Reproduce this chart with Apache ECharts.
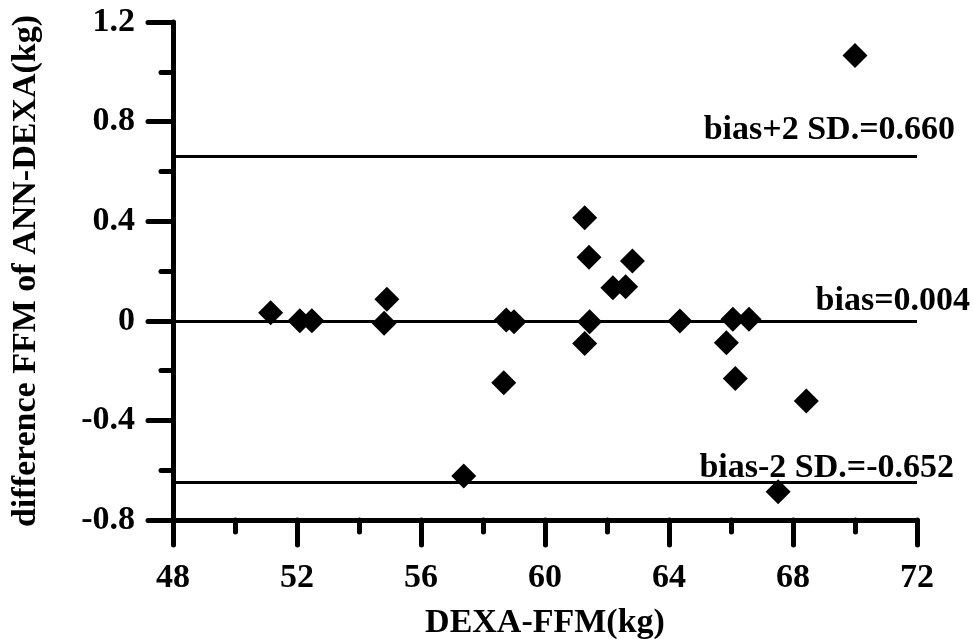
<!DOCTYPE html>
<html>
<head>
<meta charset="utf-8">
<script src="https://cdn.jsdelivr.net/npm/echarts@6/dist/echarts.min.js"></script>
<style>
html,body{margin:0;padding:0;background:#fff;}
#chart{width:974px;height:639px;}
</style>
</head>
<body>
<div id="chart"></div>
<script>
// DEXA-FFM (kg)
var dexaFFM = [51.15, 52.09, 52.48, 54.81, 54.90, 57.38, 58.67, 58.75, 59.00,
  61.28, 61.42, 61.28, 61.44, 62.19, 62.60, 62.82, 64.35, 65.85, 66.06, 66.14,
  66.58, 67.52, 68.43, 70.00];
// difference FFM of ANN-DEXA (kg)
var diffFFM = [0.032, 0.000, 0.000, -0.010, 0.087, -0.623, -0.249, 0.003, -0.004,
  0.414, 0.255, -0.091, -0.004, 0.133, 0.137, 0.240, -0.001, -0.088, 0.006, -0.232,
  0.006, -0.687, -0.322, 1.065];
var refValues = [0.660, 0.004, -0.652];
var refLabels = ['bias+2 SD.=0.660', 'bias=0.004', 'bias-2 SD.=-0.652'];
var xTickLabels = ['48', '52', '56', '60', '64', '68', '72'];
var yTickLabels = ['-0.8', '-0.4', '0', '0.4', '0.8', '1.2'];
var xTitle = 'DEXA-FFM(kg)';
var yTitle = 'difference FFM of ANN-DEXA(kg)';

var FONT = '"Liberation Serif", "Times New Roman", serif';
var FS = 34;
var chart = echarts.init(document.getElementById('chart'));

var points = dexaFFM.map(function (x, i) { return [x, diffFFM[i]]; });

var axisCommon = {
  axisLine: { show: true, onZero: false, lineStyle: { color: '#000', width: 5, cap: 'round' } },
  axisTick: { show: true, inside: false, length: 25, lineStyle: { color: '#000', width: 5, cap: 'round' } },
  minorTick: { show: true, splitNumber: 2, length: 12, lineStyle: { color: '#000', width: 5, cap: 'round' } },
  splitLine: { show: false },
  nameTextStyle: { fontFamily: FONT, fontWeight: 'bold', fontSize: FS, color: '#000' }
};

var option = {
  animation: false,
  backgroundColor: '#fff',
  grid: { left: 173, right: 57, top: 22, bottom: 119, containLabel: false, outerBoundsMode: 'none' },
  xAxis: Object.assign({}, axisCommon, {
    type: 'value', min: 48, max: 72, interval: 4,
    name: xTitle, nameLocation: 'middle', nameGap: 86,
    axisLabel: {
      margin: 41, fontFamily: FONT, fontWeight: 'bold', fontSize: FS, color: '#000',
      formatter: function (v) { return xTickLabels[Math.round((v - 48) / 4)]; }
    }
  }),
  yAxis: Object.assign({}, axisCommon, {
    type: 'value', min: -0.8, max: 1.2, interval: 0.4,
    name: yTitle, nameLocation: 'middle', nameGap: 130,
    axisLabel: {
      margin: 38, fontFamily: FONT, fontWeight: 'bold', fontSize: FS, color: '#000',
      formatter: function (v) { return yTickLabels[Math.round((v + 0.8) / 0.4)]; }
    }
  }),
  series: [{
    type: 'scatter',
    data: points,
    symbol: 'diamond',
    symbolSize: 25,
    itemStyle: { color: '#000', opacity: 1 },
    markLine: {
      silent: true,
      symbol: ['none', 'none'],
      label: { show: false },
      lineStyle: { color: '#000', width: 3, type: 'solid' },
      data: refValues.map(function (v) { return { yAxis: v }; })
    },
    z: 3
  }]
};
chart.setOption(option);

// reference line labels, anchored to the line end via the axis scales
var labelOffsets = [[38, -9], [53, -2], [37, 2]];
var graphics = refValues.map(function (v, i) {
  var p = chart.convertToPixel({ gridIndex: 0 }, [72, v]);
  return {
    type: 'text',
    x: p[0] + labelOffsets[i][0],
    y: p[1] + labelOffsets[i][1],
    style: {
      text: refLabels[i],
      fontFamily: FONT, fontWeight: 'bold', fontSize: FS, fill: '#000',
      align: 'right', verticalAlign: 'bottom'
    },
    z: 10
  };
});
chart.setOption({ graphic: graphics });
</script>
</body>
</html>
